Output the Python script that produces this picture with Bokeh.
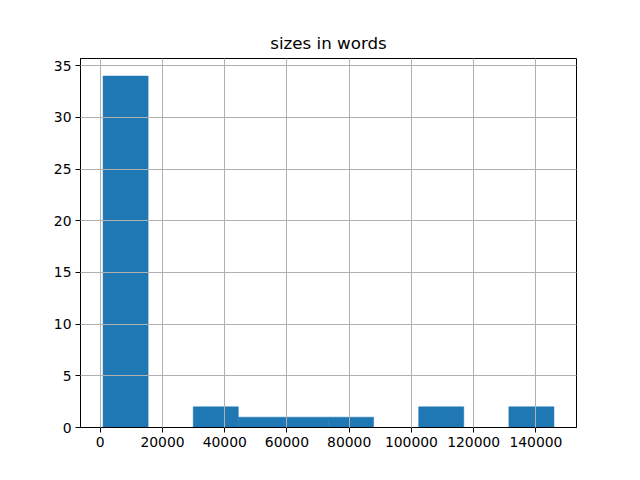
import numpy as np
from bokeh.plotting import figure
from bokeh.models import FixedTicker, BasicTickFormatter, Range1d
from bokeh.embed import file_html
from bokeh.resources import INLINE

# Histogram data
counts = [34, 0, 2, 1, 1, 1, 0, 2, 0, 2]
size_min = 900
size_max = 145800
x_ticks = [0, 20000, 40000, 60000, 80000, 100000, 120000, 140000]
y_ticks = [0, 5, 10, 15, 20, 25, 30, 35]
title_text = "sizes in words"

edges = np.linspace(size_min, size_max, len(counts) + 1)
span = size_max - size_min
x0, x1 = size_min - 0.05 * span, size_max + 0.05 * span
ymax = max(counts) * 1.05

p = figure(width=632, height=472, output_backend="svg", toolbar_location=None,
           x_range=Range1d(x0, x1), y_range=Range1d(0, ymax),
           min_border_left=80, min_border_right=56, min_border_top=58,
           min_border_bottom=45, title=title_text)

p.quad(left=edges[:-1], right=edges[1:], bottom=0, top=counts,
       fill_color="#1f77b4", line_color="#1f77b4", line_width=0.5)

p.title.align = "center"
p.title.text_font = "DejaVu Sans"
p.title.text_font_size = "16.7px"
p.title.text_font_style = "normal"
p.title.text_color = "black"
p.title.standoff = 11

p.outline_line_color = "black"
p.outline_line_width = 1
p.background_fill_color = "white"
p.border_fill_color = "white"

for ax in (p.xaxis, p.yaxis):
    ax.axis_line_color = "black"
    ax.axis_line_width = 1
    ax.major_tick_line_color = "black"
    ax.major_tick_out = 5
    ax.major_tick_in = 0
    ax.minor_tick_line_color = None
    ax.major_label_text_font = "DejaVu Sans"
    ax.major_label_text_font_size = "13.9px"
    ax.major_label_text_color = "black"
    ax.major_label_standoff = 4

p.xaxis.ticker = FixedTicker(ticks=x_ticks)
p.yaxis.ticker = FixedTicker(ticks=y_ticks)
p.xaxis.formatter = BasicTickFormatter(use_scientific=False)

for g in (p.xgrid, p.ygrid):
    g.grid_line_color = "#b0b0b0"
    g.grid_line_width = 1
    g.level = "overlay"
p.xgrid.ticker = FixedTicker(ticks=x_ticks)
p.ygrid.ticker = FixedTicker(ticks=y_ticks)

open("out.html", "w").write(file_html(p, INLINE))
